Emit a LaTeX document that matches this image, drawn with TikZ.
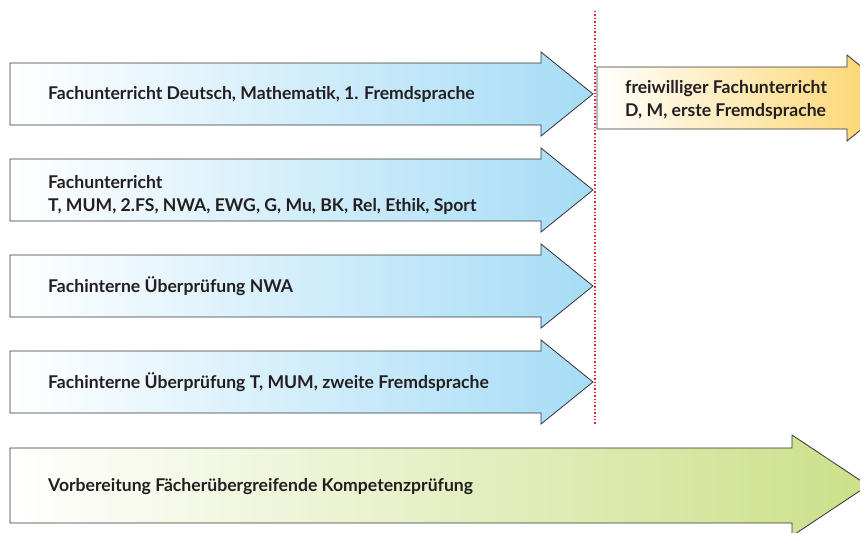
\documentclass[tikz,border=0pt]{standalone}
\usepackage{fontspec}
\setmainfont{Lato}
\usetikzlibrary{positioning}

\definecolor{pfeilblau}{HTML}{A6DCF6}
\definecolor{pfeilgelb}{HTML}{FBD264}
\definecolor{pfeilgruen}{HTML}{CCE08A}
\definecolor{schrift}{HTML}{231F20}
\definecolor{grenzrot}{HTML}{F0202E}

% Pfeilumriss: links, Mitte, Kopfbeginn, halbe Hoehe, halbe Kopfhoehe, Spitze
\newcommand{\pfeilpfad}[6]{(#1,#2-#4) -- (#3,#2-#4) -- (#3,#2-#5) -- (#6,#2)
  -- (#3,#2+#5) -- (#3,#2+#4) -- (#1,#2+#4) -- cycle}

\begin{document}
\begin{tikzpicture}[x=1pt,y=-1pt,
    umriss/.style={draw=black!80,line width=0.8pt,line join=miter},
    blau/.style={umriss,left color=white,right color=pfeilblau},
    gelb/.style={umriss,left color=white,right color=pfeilgelb},
    gruen/.style={umriss,left color=white,right color=pfeilgruen},
    beschriftung/.style={anchor=west,inner sep=0pt,text=schrift,align=left,
      font=\fontsize{17.6}{23.5}\selectfont\bfseries}]
    \useasboundingbox (0,0) rectangle (860,533);

    % blaue Pfeile
    \path[blau] \pfeilpfad{10}{94}{541}{31}{42}{593};
    \path[blau] \pfeilpfad{10}{190}{541}{31}{42}{593};
    \path[blau] \pfeilpfad{10}{286}{541}{31}{42}{593};
    \path[blau] \pfeilpfad{10}{382}{541}{31}{42}{593};

    % gelber und gruener Pfeil
    \path[gelb] \pfeilpfad{597}{98}{847}{31}{43}{900};
    \path[gruen] \pfeilpfad{10}{485.5}{792}{37.5}{50.5}{868};

    % Grenze
    \coordinate (oben) at (595,11);
    \coordinate (unten) at (595,425);
    \draw[draw=grenzrot,line width=1.2pt,dash pattern=on 1.4pt off 2pt] (oben) -- (unten);

    \node[beschriftung] (deutsch) at (48,94) {Fachunterricht Deutsch, Mathematik, 1. Fremdsprache};
    \node[beschriftung] (faecher) at (48,195) {Fachunterricht\\T, MUM, 2.FS, NWA, EWG, G, Mu, BK, Rel, Ethik, Sport};
    \node[beschriftung] (nwa) at (48,286) {Fachinterne Überprüfung NWA};
    \node[beschriftung] (fs) at (48,382) {Fachinterne Überprüfung T, MUM, zweite Fremdsprache};
    \node[beschriftung] (frei) at (625,100) {freiwilliger Fachunterricht\\D, M, erste Fremdsprache};
    \node[beschriftung] (vorb) at (48,487) {Vorbereitung Fächerübergreifende Kompetenzprüfung};
\end{tikzpicture}
\end{document}
